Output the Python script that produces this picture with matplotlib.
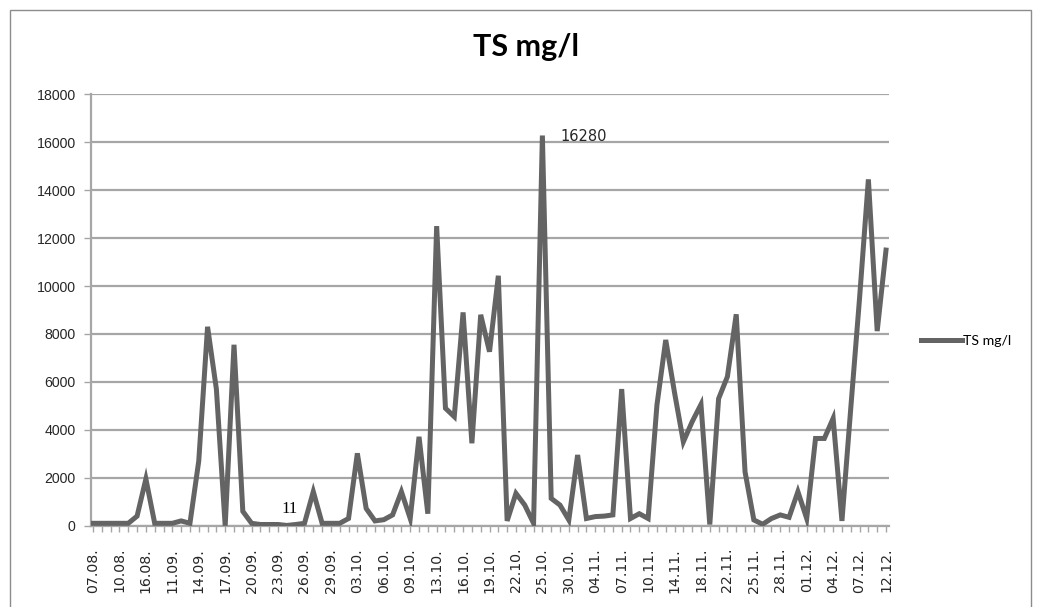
import matplotlib

matplotlib.use("Agg")
import matplotlib.pyplot as plt
from matplotlib.patches import Rectangle

# TS mg/l, one value per sampling day (91 samples)
ts_values = [
    100, 100, 100, 100, 100, 400, 1950, 100, 100, 100,
    200, 100, 2700, 8300, 5700, 0, 7550, 600, 100, 50,
    50, 50, 11, 50, 100, 1420, 100, 100, 100, 300,
    3020, 720, 200, 250, 450, 1420, 300, 3710, 500, 12500,
    4900, 4550, 8900, 3440, 8800, 7260, 10430, 200, 1350, 860,
    100, 16280, 1140, 860, 240, 2950, 300, 380, 400, 450,
    5700, 300, 500, 300, 5030, 7750, 5550, 3500, 4340, 5060,
    50, 5300, 6220, 8820, 2250, 240, 60, 300, 450, 350,
    1420, 300, 3640, 3640, 4480, 200, 4900, 9500, 14450, 8120,
    11500,
]
# every third sample is labelled on the axis
date_labels = [
    "07.08.", "10.08.", "16.08.", "11.09.", "14.09.", "17.09.", "20.09.",
    "23.09.", "26.09.", "29.09.", "03.10.", "06.10.", "09.10.", "13.10.",
    "16.10.", "19.10.", "22.10.", "25.10.", "30.10.", "04.11.", "07.11.",
    "10.11.", "14.11.", "18.11.", "22.11.", "25.11.", "28.11.", "01.12.",
    "04.12.", "07.12.", "12.12.",
]
y_ticks = list(range(0, 18001, 2000))
series_name = "TS mg/l"
labelled_points = [22, 51]

line_color = "#646464"
grid_color = "#a6a6a6"
text_color = "#262626"

fig = plt.figure(figsize=(10.4, 6.07), dpi=100)
fig.patches.append(Rectangle((10 / 1040, -0.01), 1021 / 1040, 1.0 - 10 / 607 + 0.01,
                             transform=fig.transFigure, fill=False,
                             edgecolor="#8c8c8c", linewidth=1.0))

ax = fig.add_axes([91 / 1040, 1 - 525.7 / 607, (889 - 91) / 1040, (525.7 - 94.3) / 607])
xs = list(range(len(ts_values)))
line, = ax.plot(xs, ts_values, color=line_color, linewidth=3.6,
                solid_joinstyle="miter", label=series_name, zorder=3)

ax.set_xlim(-0.23, len(ts_values) - 1 + 0.34)
ax.set_ylim(y_ticks[0], y_ticks[-1])
ax.set_yticks(y_ticks)
ax.set_yticklabels([str(v) for v in y_ticks], fontfamily="Liberation Sans",
                   fontsize=10.2, color=text_color)
ax.set_xticks(xs[::3])
ax.set_xticklabels(date_labels, rotation=90, fontfamily="DejaVu Sans",
                   fontsize=10.2, color=text_color)
ax.set_xticks(xs, minor=True)
ax.tick_params(axis="x", which="both", direction="out", length=4, width=1,
               color=grid_color, pad=12)
ax.tick_params(axis="y", direction="out", length=5, width=1, color=grid_color, pad=6)

ax.grid(axis="y", color=grid_color, linewidth=1.6, zorder=0)
ax.set_axisbelow(True)
for side in ("top", "right"):
    ax.spines[side].set_visible(False)
for side in ("left", "bottom"):
    ax.spines[side].set_color(grid_color)
    ax.spines[side].set_linewidth(1.6)

for idx in labelled_points:
    val = ts_values[idx]
    if val > 1000:
        ax.annotate(str(val), (idx, val), xytext=(13, -1), textcoords="offset points",
                    ha="left", va="center", fontsize=10.5, color=text_color,
                    fontfamily="DejaVu Sans")
    else:
        ax.annotate(str(val), (idx, val), xytext=(2, 6), textcoords="offset points",
                    ha="center", va="bottom", fontsize=12, color="black",
                    fontfamily="Liberation Serif")

fig.text(526 / 1040, 1 - 47 / 607, series_name, ha="center", va="center",
         fontsize=22, fontweight="bold", fontfamily="Lato", color="black")

fig.legend(handles=[line], labels=[series_name], loc="center left",
           bbox_to_anchor=(908 / 1040, 1 - 341 / 607), frameon=False,
           handlelength=2.9, handletextpad=0.1,
           prop={"family": "Lato", "size": 10.2})

fig.savefig("out.png", dpi=100)
